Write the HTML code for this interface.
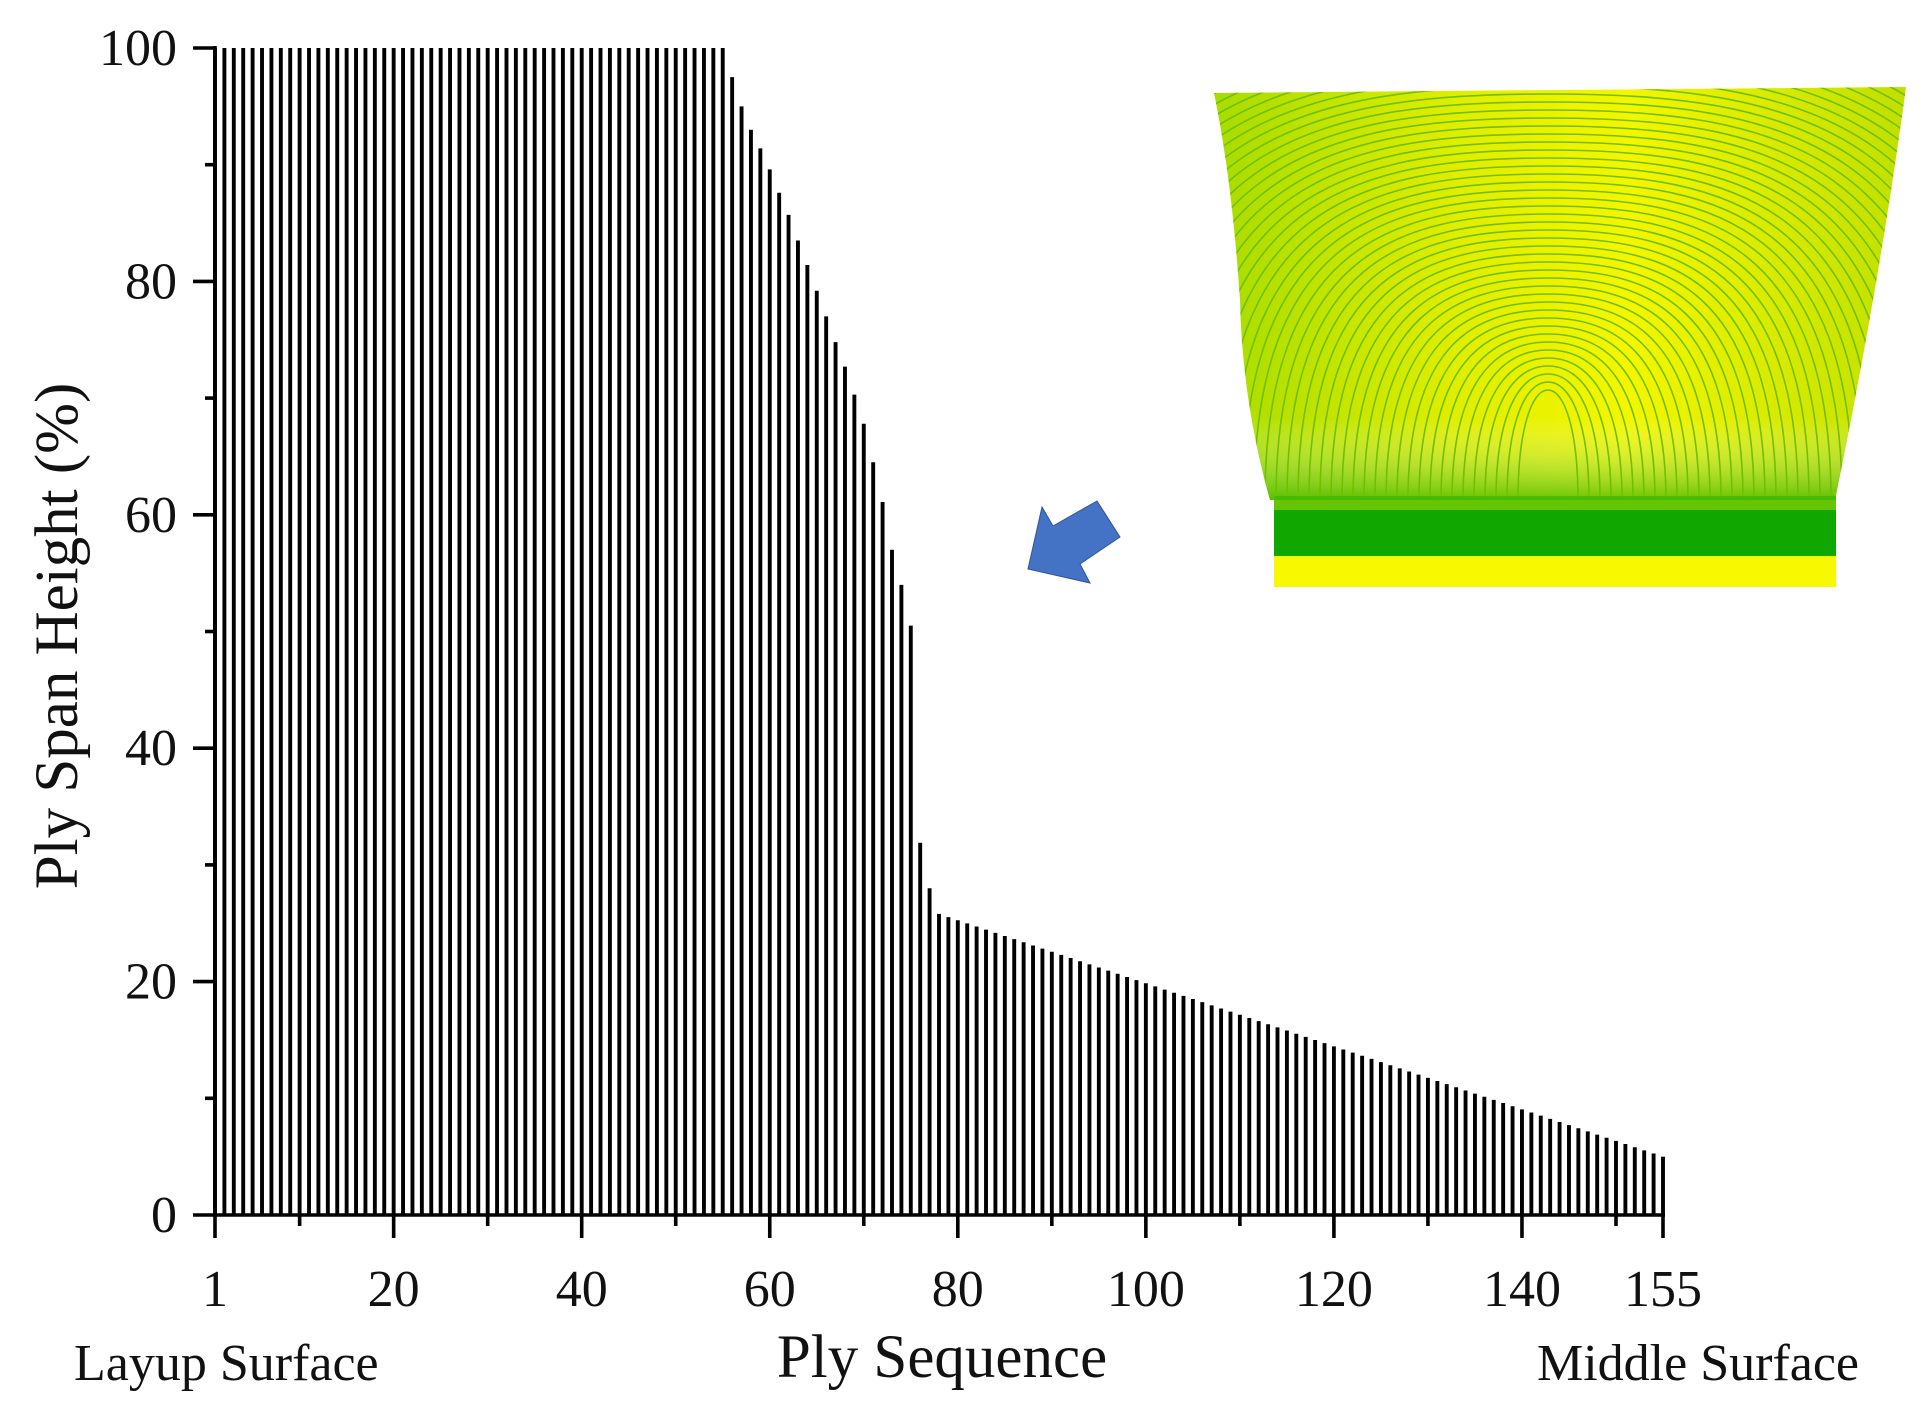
<!DOCTYPE html>
<html><head><meta charset="utf-8"><style>
html,body{margin:0;padding:0;background:#fff;}
svg{display:block;}
text{font-family:"Liberation Serif",serif;fill:#111;}
</style></head><body>
<svg id="s" width="1929" height="1417" viewBox="0 0 1929 1417" xmlns="http://www.w3.org/2000/svg">
<defs>
<linearGradient id="g1" x1="0" y1="0" x2="1" y2="0">
<stop offset="0" stop-color="#a8dc00"/><stop offset="0.35" stop-color="#e0ee00"/><stop offset="0.6" stop-color="#f4f600"/><stop offset="1" stop-color="#c0e000"/>
</linearGradient>
<linearGradient id="g2" x1="0" y1="0" x2="0" y2="1">
<stop offset="0" stop-color="#fff" stop-opacity="0"/><stop offset="0.8" stop-color="#fff" stop-opacity="0"/><stop offset="1" stop-color="#30b000" stop-opacity="0.7"/>
</linearGradient>
<clipPath id="cp"><path d="M1214,93 L1906,87 Q1880,280 1836,495 L1836,500 L1270,500 Q1242,400 1240,300 Q1232,180 1214,93 Z"/></clipPath>
</defs>
<g id="bars" stroke="#000" stroke-width="3.9"></g>
<g id="ax" stroke="#000" stroke-width="3.6" fill="none"></g>
<g id="lab"></g>
<text x="942" y="1377" font-size="61" text-anchor="middle">Ply Sequence</text>
<text x="74" y="1380" font-size="52">Layup Surface</text>
<text x="1537" y="1380" font-size="52">Middle Surface</text>
<text transform="translate(77,636) rotate(-90)" font-size="61" text-anchor="middle">Ply Span Height (%)</text>
<polygon points="1028,569 1042,507 1053,526 1097,501 1120,537 1080,564 1090,583" fill="#4472C4" stroke="#2f5597" stroke-width="1"/>
<path d="M1214,93 L1906,87 Q1880,280 1836,495 L1836,500 L1270,500 Q1242,400 1240,300 Q1232,180 1214,93 Z" fill="url(#g1)"/>
<path d="M1214,93 L1906,87 Q1880,280 1836,495 L1836,500 L1270,500 Q1242,400 1240,300 Q1232,180 1214,93 Z" fill="url(#g2)"/>
<g id="cont" fill="none" stroke="#70c000" stroke-width="1.6" clip-path="url(#cp)"></g>
<rect x="1274" y="500" width="562" height="87" fill="#f8f800"/>
<rect x="1274" y="510" width="562" height="46" fill="#10a800"/>
<rect x="1274" y="496" width="562" height="14" fill="#40b800" opacity="0.8"/>
</svg>
<script>
var NS="http://www.w3.org/2000/svg";
function el(p,t,a){var e=document.createElementNS(NS,t);for(var k in a)e.setAttribute(k,a[k]);p.appendChild(e);return e;}
var X=function(i){return 215+(i-1)*1448/154;},Y=function(v){return 1215-v*11.67;};
var h={56:97.5,57:95,58:93,59:91.4,60:89.6,61:87.6,62:85.7,63:83.5,64:81.4,65:79.2,66:77,67:74.8,68:72.7,69:70.3,70:67.8,71:64.5,72:61.1,73:57,74:54,75:50.5,76:31.9,77:28};
var b=document.getElementById('bars');
for(var i=1;i<=155;i++){var v=i<=55?100:(h[i]!==undefined?h[i]:25.8-(i-78)*20.8/77);
el(b,'line',{x1:X(i),x2:X(i),y1:1215,y2:Y(v)});}
var a=document.getElementById('ax');
el(a,'line',{x1:215,y1:46,x2:215,y2:1216});
el(a,'line',{x1:213,y1:1215,x2:1665,y2:1215});
for(var v=0;v<=100;v+=10){el(a,'line',{x1:v%20==0?193:205,x2:215,y1:Y(v),y2:Y(v)});}
var L=document.getElementById('lab');
for(var v=0;v<=100;v+=20){var t=el(L,'text',{x:177,y:Y(v)+17,'font-size':52,'text-anchor':'end'});t.textContent=v;}
var xt=[1,10,20,30,40,50,60,70,80,90,100,110,120,130,140,150,155];
xt.forEach(function(i){var maj=(i%20==0||i==1||i==155);el(a,'line',{x1:X(i),x2:X(i),y1:1215,y2:maj?1238:1226});
if(maj){var t=el(L,'text',{x:X(i),y:1306,'font-size':52,'text-anchor':'middle'});t.textContent=i;}});
var c=document.getElementById('cont');
for(var k=0;k<60;k++){var cx=1548,w=30+k*11,tp=390-k*8,bt=500;
el(c,'path',{d:'M'+(cx-w)+','+bt+' C'+(cx-w)+','+(tp+40)+' '+(cx-w*0.55)+','+tp+' '+cx+','+tp+' S'+(cx+w)+','+(tp+40)+' '+(cx+w)+','+bt});}
</script>
</body></html>
